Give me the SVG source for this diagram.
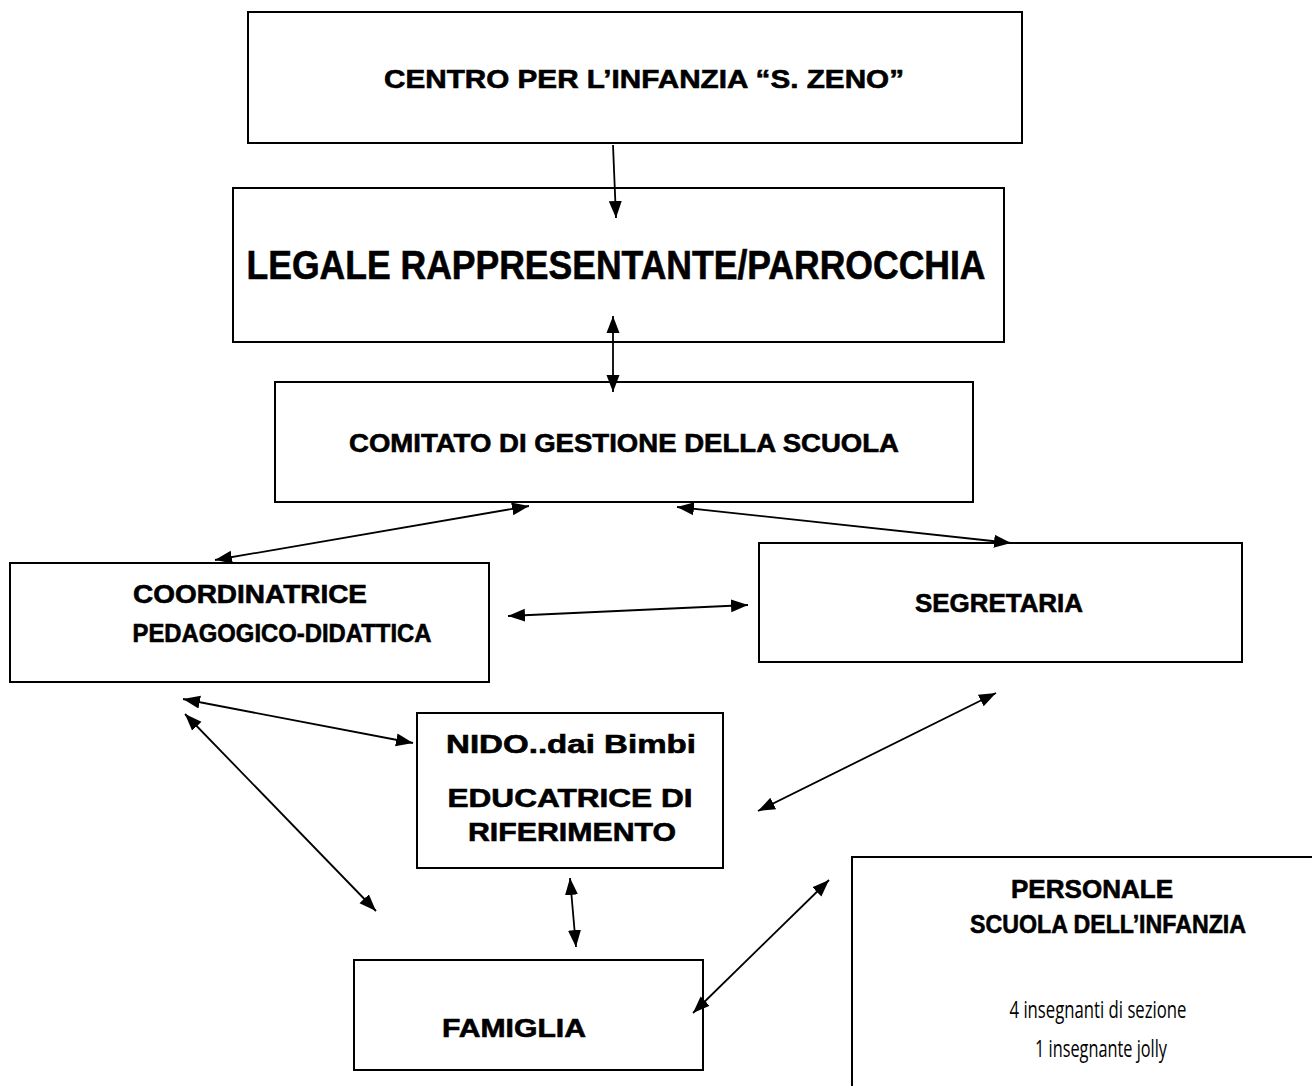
<svg xmlns="http://www.w3.org/2000/svg" width="1312" height="1086" viewBox="0 0 1312 1086">
<style>
.box{fill:#fff;stroke:#000;stroke-width:2}
.t{font-family:"Liberation Sans",Arial,sans-serif;font-weight:bold;font-size:26px;fill:#000;stroke:#000;stroke-width:0.6;text-anchor:middle}
.n{font-family:"Open Sans","Liberation Sans",sans-serif;font-size:23px;fill:#000;text-anchor:middle}
.c{stroke:#000;stroke-width:1.8;fill:none}
</style>
<defs>
<marker id="ah" markerUnits="userSpaceOnUse" markerWidth="18" markerHeight="14" refX="17" refY="7" orient="auto-start-reverse" viewBox="0 0 18 14">
<path d="M0,0.5 L17,7 L0,13.5 z" fill="#000"/>
</marker>
</defs>
<rect width="1312" height="1086" fill="#fff"/>
<g id="centro">
<rect class="box" x="248" y="12" width="774" height="131"/>
<text class="t" x="644" y="88" textLength="520" lengthAdjust="spacingAndGlyphs">CENTRO PER L’INFANZIA “S. ZENO”</text>
</g>
<g id="legale">
<rect class="box" x="233" y="188" width="771" height="154"/>
<text class="t" x="616" y="279" style="font-size:40px" textLength="739" lengthAdjust="spacingAndGlyphs">LEGALE RAPPRESENTANTE/PARROCCHIA</text>
</g>
<g id="comitato">
<rect class="box" x="275" y="382" width="698" height="120"/>
<text class="t" x="624" y="452" textLength="550" lengthAdjust="spacingAndGlyphs">COMITATO DI GESTIONE DELLA SCUOLA</text>
</g>
<g id="coordinatrice">
<rect class="box" x="10" y="563" width="479" height="119"/>
<text class="t" x="250" y="603" textLength="234" lengthAdjust="spacingAndGlyphs">COORDINATRICE</text>
<text class="t" x="282" y="642" textLength="299" lengthAdjust="spacingAndGlyphs">PEDAGOGICO-DIDATTICA</text>
</g>
<g id="segretaria">
<rect class="box" x="759" y="543" width="483" height="119"/>
<text class="t" x="999" y="612" textLength="168" lengthAdjust="spacingAndGlyphs">SEGRETARIA</text>
</g>
<g id="nido">
<rect class="box" x="417" y="713" width="306" height="155"/>
<text class="t" x="571" y="753" textLength="250" lengthAdjust="spacingAndGlyphs">NIDO..dai Bimbi</text>
<text class="t" x="570" y="807" textLength="245" lengthAdjust="spacingAndGlyphs">EDUCATRICE DI</text>
<text class="t" x="572" y="841" textLength="208" lengthAdjust="spacingAndGlyphs">RIFERIMENTO</text>
</g>
<g id="famiglia">
<rect class="box" x="354" y="960" width="349" height="110"/>
<text class="t" x="514" y="1037" textLength="144" lengthAdjust="spacingAndGlyphs">FAMIGLIA</text>
</g>
<g id="personale">
<rect class="box" x="852" y="857" width="470" height="240"/>
<text class="t" x="1092" y="898" textLength="162" lengthAdjust="spacingAndGlyphs">PERSONALE</text>
<text class="t" x="1108" y="933" textLength="276" lengthAdjust="spacingAndGlyphs">SCUOLA DELL’INFANZIA</text>
<text class="n" x="1098" y="1018" textLength="177" lengthAdjust="spacingAndGlyphs">4 insegnanti di sezione</text>
<text class="n" x="1101" y="1057" textLength="132" lengthAdjust="spacingAndGlyphs">1 insegnante jolly</text>
</g>
<g id="connectors">
<line class="c" x1="613" y1="145" x2="616" y2="218" marker-end="url(#ah)"/>
<line class="c" x1="613" y1="316" x2="613" y2="392" marker-start="url(#ah)" marker-end="url(#ah)"/>
<line class="c" x1="529" y1="506" x2="215" y2="560" marker-start="url(#ah)" marker-end="url(#ah)"/>
<line class="c" x1="677" y1="507" x2="1011" y2="543" marker-start="url(#ah)" marker-end="url(#ah)"/>
<line class="c" x1="508" y1="616" x2="748" y2="605" marker-start="url(#ah)" marker-end="url(#ah)"/>
<line class="c" x1="183" y1="699" x2="413" y2="743" marker-start="url(#ah)" marker-end="url(#ah)"/>
<line class="c" x1="185" y1="714" x2="376" y2="911" marker-start="url(#ah)" marker-end="url(#ah)"/>
<line class="c" x1="996" y1="693" x2="758" y2="811" marker-start="url(#ah)" marker-end="url(#ah)"/>
<line class="c" x1="570" y1="878" x2="576" y2="947" marker-start="url(#ah)" marker-end="url(#ah)"/>
<line class="c" x1="829" y1="880" x2="693" y2="1013" marker-start="url(#ah)" marker-end="url(#ah)"/>
</g>
</svg>
